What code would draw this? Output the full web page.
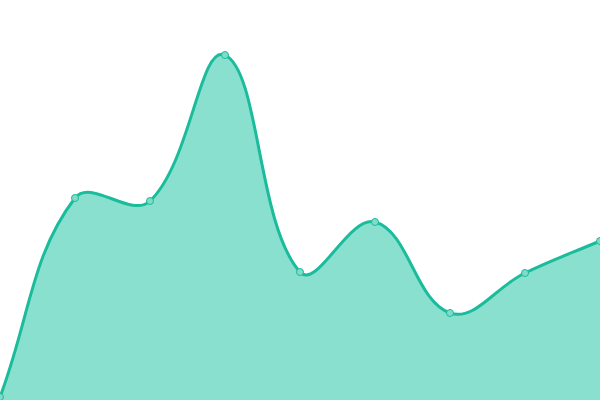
<!DOCTYPE html>
<html>
<head>
<meta charset="utf-8">
<script src="https://cdn.jsdelivr.net/npm/d3@7"></script>
<style>
  html, body { margin: 0; padding: 0; background: #fff; }
  svg { display: block; }
</style>
</head>
<body>
<div id="chart"></div>
<script>
const width = 600;
const height = 400;

// one point per step
const labels = ["1", "2", "3", "4", "5", "6", "7", "8", "9"];
const values = [3, 202, 199, 345, 128, 178, 87, 127, 159];

const lineColor = "#1abc9c";
const fillColor = "#89e0cf";
const tension = 0.4;

const xScale = d3
  .scalePoint()
  .domain(labels)
  .range([0, width]);

const yScale = d3
  .scaleLinear()
  .domain([0, 400])
  .range([height, 0]);

const points = labels.map((d, i) => [xScale(d), yScale(values[i])]);

// bezier control points weighted by distance to the neighbours
const controls = points.map((cur, i) => {
  const prev = points[i - 1] || cur;
  const next = points[i + 1] || cur;
  const d01 = Math.hypot(cur[0] - prev[0], cur[1] - prev[1]);
  const d12 = Math.hypot(next[0] - cur[0], next[1] - cur[1]);
  const s01 = d01 / (d01 + d12) || 0;
  const s12 = d12 / (d01 + d12) || 0;
  const fa = tension * s01;
  const fb = tension * s12;
  const clampY = (y) => Math.max(0, Math.min(height, y));
  return {
    in: [cur[0] - fa * (next[0] - prev[0]), clampY(cur[1] - fa * (next[1] - prev[1]))],
    out: [cur[0] + fb * (next[0] - prev[0]), clampY(cur[1] + fb * (next[1] - prev[1]))],
  };
});

function linePath() {
  const p = d3.path();
  p.moveTo(points[0][0], points[0][1]);
  for (let i = 1; i < points.length; i++) {
    const a = controls[i - 1].out;
    const b = controls[i].in;
    p.bezierCurveTo(a[0], a[1], b[0], b[1], points[i][0], points[i][1]);
  }
  return p;
}

const svg = d3
  .select("#chart")
  .append("svg")
  .attr("width", width)
  .attr("height", height);

const areaPath = linePath();
areaPath.lineTo(points[points.length - 1][0], yScale(0));
areaPath.lineTo(points[0][0], yScale(0));
areaPath.closePath();

svg.append("path").attr("d", areaPath.toString()).attr("fill", fillColor);

svg
  .append("path")
  .attr("d", linePath().toString())
  .attr("fill", "none")
  .attr("stroke", lineColor)
  .attr("stroke-width", 3);

svg
  .selectAll(".dot")
  .data(points)
  .join("circle")
  .attr("class", "dot")
  .attr("cx", (d) => d[0])
  .attr("cy", (d) => d[1])
  .attr("r", 3.5)
  .attr("fill", "#7fdcc9")
  .attr("stroke", lineColor)
  .attr("stroke-width", 1);
</script>
</body>
</html>
